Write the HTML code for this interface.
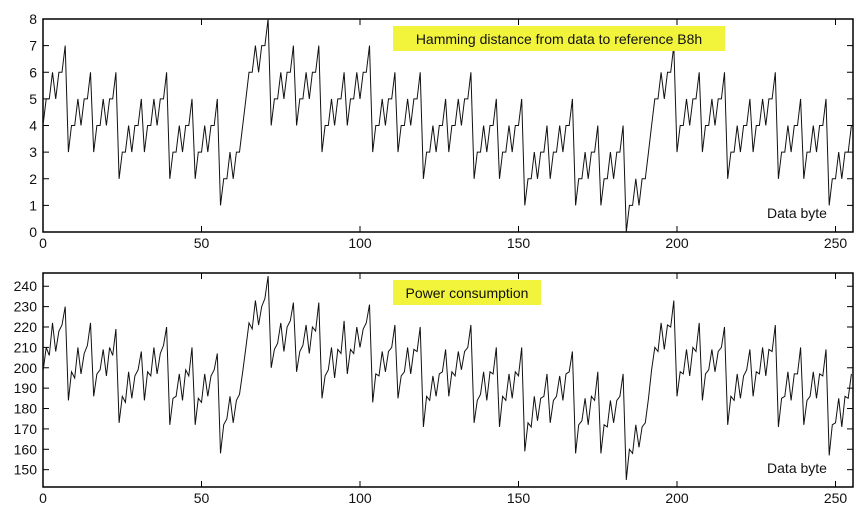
<!DOCTYPE html>
<html><head><meta charset="utf-8"><style>
body{margin:0;background:#fff;width:868px;height:517px;overflow:hidden;font-family:"Liberation Sans",sans-serif}
svg text{font-family:"Liberation Sans",sans-serif}
</style></head><body>
<svg id="c" width="868" height="517" viewBox="0 0 868 517"></svg>
<script>
const hamming = [
4,5,5,6,5,6,6,7,3,4,4,5,4,5,5,6,
3,4,4,5,4,5,5,6,2,3,3,4,3,4,4,5,
3,4,4,5,4,5,5,6,2,3,3,4,3,4,4,5,
2,3,3,4,3,4,4,5,1,2,2,3,2,3,3,4,
5,6,6,7,6,7,7,8,4,5,5,6,5,6,6,7,
4,5,5,6,5,6,6,7,3,4,4,5,4,5,5,6,
4,5,5,6,5,6,6,7,3,4,4,5,4,5,5,6,
3,4,4,5,4,5,5,6,2,3,3,4,3,4,4,5,
3,4,4,5,4,5,5,6,2,3,3,4,3,4,4,5,
2,3,3,4,3,4,4,5,1,2,2,3,2,3,3,4,
2,3,3,4,3,4,4,5,1,2,2,3,2,3,3,4,
1,2,2,3,2,3,3,4,0,1,1,2,1,2,2,3,
4,5,5,6,5,6,6,7,3,4,4,5,4,5,5,6,
3,4,4,5,4,5,5,6,2,3,3,4,3,4,4,5,
3,4,4,5,4,5,5,6,2,3,3,4,3,4,4,5,
2,3,3,4,3,4,4,5,1,2,2,3,2,3,3,4];
const power = [
198,210,206,222,208,218,221,230,184,198,195,210,197,207,211,222,
186,197,199,209,196,210,206,219,173,186,183,198,185,196,199,208,
184,198,196,210,197,207,211,220,172,185,186,197,184,199,196,210,
172,185,183,197,186,196,199,207,158,172,175,186,173,184,187,198,
210,222,219,233,221,230,234,245,200,209,212,222,208,220,223,232,
198,208,211,221,207,220,218,232,185,196,199,210,195,209,207,223,
197,209,207,220,210,219,222,231,183,197,196,208,198,208,210,221,
185,196,198,210,197,209,208,220,171,186,184,196,186,197,198,209,
186,198,196,208,199,208,210,221,173,184,187,198,184,198,197,210,
171,186,184,197,185,198,196,210,159,173,171,186,174,185,186,197,
173,184,186,196,184,197,198,208,158,172,174,185,172,186,184,198,
158,172,171,184,173,184,186,197,145,160,158,172,161,171,173,185,
199,210,208,222,209,221,220,233,186,198,197,209,196,210,208,222,
184,197,199,209,198,208,210,220,172,186,184,197,185,196,199,209,
186,198,197,210,196,209,208,221,171,185,186,198,184,197,197,210,
172,184,186,198,185,197,196,209,157,172,173,185,171,186,185,197];
const xTicks = [0,50,100,150,200,250];
const hTicks = [0,1,2,3,4,5,6,7,8];
const pTicks = [150,160,170,180,190,200,210,220,230,240];

const svg = document.getElementById('c');
const NS = 'http://www.w3.org/2000/svg';
function mk(tag, attrs, parent){const e=document.createElementNS(NS,tag);for(const k in attrs)e.setAttribute(k,attrs[k]);(parent||svg).appendChild(e);return e;}
const X0=43, X1=853;
const sx = v => X0 + v*3.17;

function panel(name, top, bottom, ymin, ymax, ticks, data, title, tx, tw){
  const g = mk('g',{});
  
  
  const sy = v => bottom - (v-ymin)/(ymax-ymin)*(bottom-top);
  const fr = mk('rect',{x:X0,y:top,width:X1-X0,height:bottom-top,fill:'none',stroke:'#000','stroke-width':1.5},g);
  
  
  ticks.forEach(t=>{
    const y=sy(t);
    mk('line',{x1:X0,y1:y,x2:X0+6,y2:y,stroke:'#000'},g);
    mk('line',{x1:X1,y1:y,x2:X1-6,y2:y,stroke:'#000'},g);
    const lb=mk('text',{x:X0-6,y:y+5,'text-anchor':'end','font-size':14,fill:'#111'},g);
    lb.textContent=t;
    
    
  });
  xTicks.forEach(t=>{
    const x=sx(t);
    mk('line',{x1:x,y1:bottom,x2:x,y2:bottom-6,stroke:'#000'},g);
    mk('line',{x1:x,y1:top,x2:x,y2:top+6,stroke:'#000'},g);
    const lb=mk('text',{x:x,y:bottom+16,'text-anchor':'middle','font-size':14,fill:'#111'},g);
    lb.textContent=t;
    
    
  });
  let d='';
  data.forEach((v,i)=>{
    d += (i===0?'M':'L')+sx(i).toFixed(1)+' '+sy(v).toFixed(1)+' ';
  });
  const p=mk('path',{d:d,fill:'none',stroke:'#111','stroke-width':1},g);
  
  
  const bx=mk('rect',{x:tx,y:top+7,width:tw,height:25,fill:'#f2f43c'},g);
  
  
  const tt=mk('text',{x:tx+tw/2,y:top+25,'text-anchor':'middle','font-size':14,fill:'#111'},g);
  tt.textContent=title;
  
  
  const xl=mk('text',{x:797,y:bottom-14,'text-anchor':'middle','font-size':14,fill:'#111'},g);
  xl.textContent='Data byte';
  
  
}
panel('hamming-panel',19,232,0,8,hTicks,hamming,'Hamming distance from data to reference B8h',393,332);
panel('power-panel',273,487,141.5,246.5,pTicks,power,'Power consumption',393,148);
</script>
</body></html>
